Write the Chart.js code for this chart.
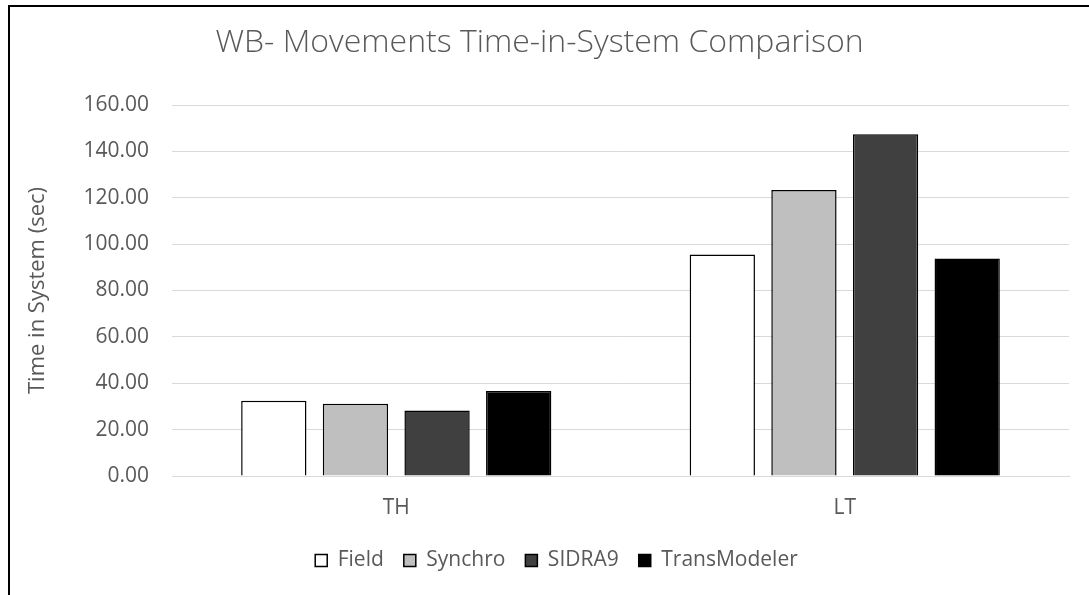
<!DOCTYPE html>
<html>
<head>
<meta charset="utf-8">
<title>WB- Movements Time-in-System Comparison</title>
<script src="https://cdn.jsdelivr.net/npm/chart.js@4"></script>
<style>
  html, body { margin: 0; padding: 0; background: #fff; }
  #wrap { position: relative; width: 1089px; height: 595px; overflow: hidden; }
  #chart { position: absolute; left: 0; top: 0; }
  #frame {
    position: absolute; left: 8px; top: 5px; right: -4px; bottom: -4px;
    border-left: 2px solid #000; border-top: 2px solid #000;
    pointer-events: none;
  }
</style>
</head>
<body>
<div id="wrap">
  <canvas id="chart" width="1089" height="595"></canvas>
  <div id="frame"></div>
</div>
<script>
"use strict";

var movements = ["TH", "LT"];
var field = [32.5, 95.5];
var synchro = [31.2, 123.3];
var sidra9 = [28.3, 147.4];
var transModeler = [36.7, 93.8];
var yTicks = [0, 20, 40, 60, 80, 100, 120, 140, 160];

var textColor = "#595959";
var gridColor = "#d9d9d9";
var fontFamily = "'Open Sans', 'DejaVu Sans', sans-serif";

Chart.defaults.font.family = fontFamily;
Chart.defaults.color = textColor;

function series(label, data, fill) {
  return {
    label: label,
    data: data,
    backgroundColor: fill,
    borderColor: "#000000",
    borderWidth: 1.5,
    barPercentage: 0.8,
    categoryPercentage: 0.728
  };
}

// nudge the legend row a little to the right of the default centre
var legendShift = {
  id: "legendShift",
  afterLayout: function(chart) {
    var lg = chart.legend;
    if (lg) {
      lg.left += 17;
      lg.right += 17;
    }
  }
};

var ctx = document.getElementById("chart");
var myChart = new Chart(ctx, {
  type: "bar",
  data: {
    labels: movements,
    datasets: [
      series("Field", field, "#ffffff"),
      series("Synchro", synchro, "#bfbfbf"),
      series("SIDRA9", sidra9, "#404040"),
      series("TransModeler", transModeler, "#000000")
    ]
  },
  options: {
    responsive: false,
    animation: false,
    layout: {
      padding: { left: 10, right: 20, top: 10, bottom: 14 }
    },
    plugins: {
      title: {
        display: true,
        text: "WB- Movements Time-in-System Comparison",
        color: textColor,
        font: { size: 32, weight: "300" },
        padding: { top: 14, bottom: 42.6 }
      },
      legend: {
        position: "bottom",
        labels: {
          color: textColor,
          font: { size: 21 },
          boxWidth: 12,
          boxHeight: 12,
          padding: 20
        }
      },
      tooltip: { enabled: false }
    },
    scales: {
      x: {
        grid: { display: false },
        border: { display: true, color: gridColor, width: 1 },
        ticks: { color: textColor, font: { size: 21 }, padding: 11 },
        afterFit: function(scale) {
          scale.height = 54;
        }
      },
      y: {
        min: 0,
        max: 160,
        afterBuildTicks: function(scale) {
          scale.ticks = yTicks.map(function(v) { return { value: v }; });
        },
        grid: { color: gridColor, lineWidth: 1, drawTicks: false },
        border: { display: false },
        ticks: {
          color: textColor,
          font: { size: 21 },
          padding: 23,
          callback: function(val) {
            return Number(val).toFixed(2);
          }
        },
        title: {
          display: true,
          text: "Time in System (sec)",
          color: textColor,
          font: { size: 22 },
          padding: { top: 15, bottom: 0 }
        },
        afterFit: function(scale) {
          scale.width = 162;
        }
      }
    }
  },
  plugins: [legendShift]
});
</script>
</body>
</html>
